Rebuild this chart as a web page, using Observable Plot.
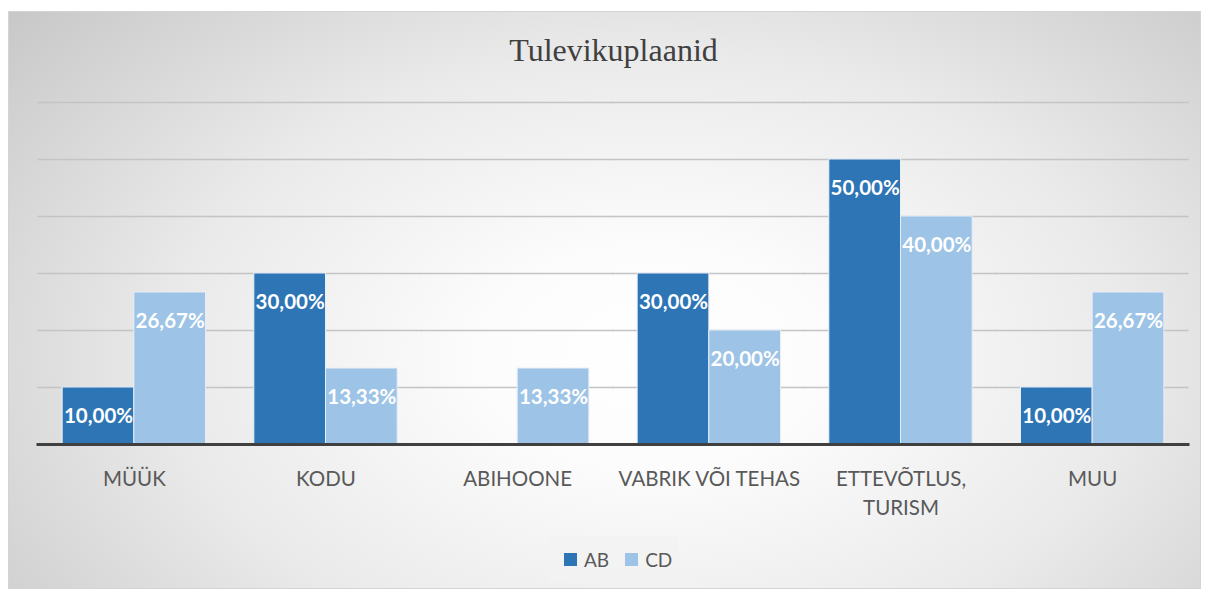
<!DOCTYPE html>
<html>
<head>
<meta charset="utf-8">
<script src="https://cdn.jsdelivr.net/npm/d3@7"></script>
<script src="https://cdn.jsdelivr.net/npm/@observablehq/plot@0.6"></script>
<style>
  html, body { margin: 0; padding: 0; background: #ffffff; }
  #wrap { position: relative; width: 1209px; height: 590px; overflow: hidden; }
  #panel { position: absolute; left: 8px; top: 11px; width: 1191px; height: 576px;
    border: 1px solid #d4d4d4;
    background: radial-gradient(ellipse 72% 95% at 54% 60%, #ffffff 0%, #fcfcfc 20%, #eaeaea 56%, #c6c6c6 100%); }
  #title { position: absolute; left: 9px; width: 1209px; top: 30px; text-align: center;
    font-family: "Liberation Serif", "Times New Roman", serif; font-size: 32px; line-height: 40px; color: #404040; }
  #chart { position: absolute; left: 0; top: 80px; }
  #legend { position: absolute; left: 549px; top: 536px; width: 129px; height: 46px; background: rgba(242,242,242,0.85);
    display: flex; align-items: center; justify-content: flex-start; box-sizing: border-box; padding-left: 15px;
    font-family: Lato, "Open Sans", sans-serif; font-size: 19px; color: #595959; }
  .sw { display: inline-block; width: 13px; height: 13px; margin-right: 7px; }
  .item { display: flex; align-items: center; margin-right: 16px; }
</style>
</head>
<body>
<div id="wrap">
  <div id="panel"></div>
  <div id="title">Tulevikuplaanid</div>
  <div id="chart"></div>
  <div id="legend"></div>
</div>
<script>
const categories = ["MÜÜK", "KODU", "ABIHOONE", "VABRIK VÕI TEHAS", "ETTEVÕTLUS,\nTURISM", "MUU"];
const seriesNames = ["AB", "CD"];
const valuesAB = [10.00, 30.00, 0.00, 30.00, 50.00, 10.00];
const valuesCD = [26.67, 13.33, 13.33, 20.00, 40.00, 26.67];
const gridTicks = [10, 20, 30, 40, 50, 60];
const colors = ["#2E75B6", "#9DC3E6"];

const rows = [];
categories.forEach((c, i) => {
  rows.push({category: c, series: "AB", value: valuesAB[i]});
  rows.push({category: c, series: "CD", value: valuesCD[i]});
});
const fmt = v => v.toFixed(2).replace(".", ",") + "%";

const plot = Plot.plot({
  width: 1209,
  height: 450,
  marginLeft: 38,
  marginRight: 21,
  marginTop: 22,
  marginBottom: 86,
  style: {background: "transparent", fontFamily: "Lato, 'Open Sans', sans-serif", fontSize: "20px", color: "#595959", overflow: "visible"},
  fx: {domain: categories, padding: 0, round: false, axis: null},
  x: {domain: seriesNames, axis: null, paddingInner: 0, paddingOuter: 0.337, round: false},
  y: {domain: [0, 60], axis: null},
  color: {domain: seriesNames, range: colors},
  marks: [
    Plot.ruleY(gridTicks, {stroke: "#c4c4c4", strokeWidth: 1.3, strokeLinecap: "square"}),
    Plot.barY(rows, {fx: "category", x: "series", y: "value", fill: "series", stroke: "#e8eef6", strokeWidth: 1, insetLeft: 0, insetRight: 0}),
    Plot.text(rows.filter(d => d.value > 0), {fx: "category", x: "series", y: "value", text: d => fmt(d.value),
      dy: 29, fill: "white", fontWeight: "bold", fontSize: 20.5}),
    Plot.text(categories, {fx: d => d, text: d => d, frameAnchor: "bottom", lineAnchor: "top", dy: 22,
      lineHeight: 1.37, fill: "#595959", fontSize: 20.5}),
    Plot.ruleY([0], {stroke: "#404040", strokeWidth: 3, strokeLinecap: "square"})
  ]
});
document.getElementById("chart").appendChild(plot);

const legend = document.getElementById("legend");
seriesNames.forEach((s, i) => {
  const it = document.createElement("span");
  it.className = "item";
  const sw = document.createElement("span");
  sw.className = "sw";
  sw.style.background = colors[i];
  it.appendChild(sw);
  it.appendChild(document.createTextNode(s));
  legend.appendChild(it);
});
</script>
</body>
</html>
